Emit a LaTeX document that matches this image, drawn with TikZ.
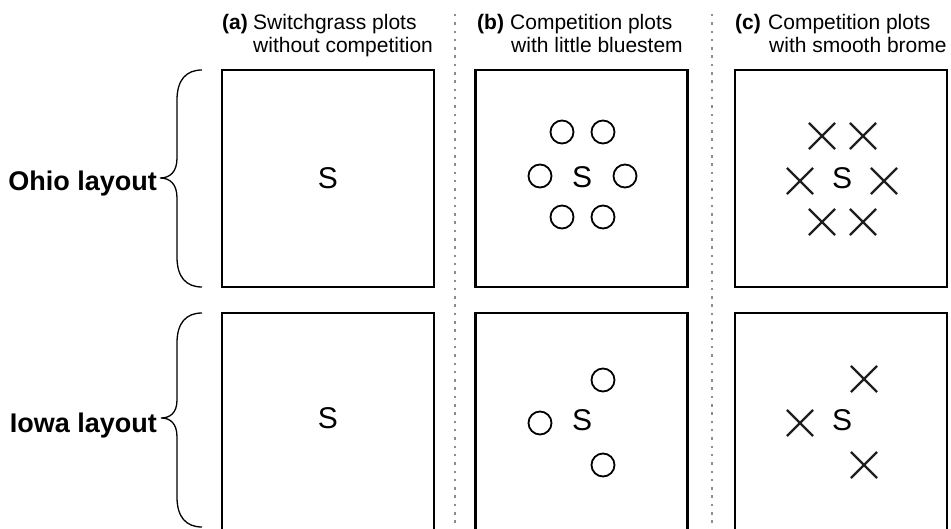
\documentclass[tikz,border=0pt]{standalone}
\usepackage{fontspec}
\setmainfont{Liberation Sans}
\usetikzlibrary{shapes.misc}
\begin{document}
\begin{tikzpicture}[x=1pt,y=-1pt,
  plotbox/.style={draw=black,line width=2.6pt,minimum width=212pt,minimum height=217pt,inner sep=0pt},
  plotboxlow/.style={plotbox,minimum height=230pt},
  sg/.style={font=\fontsize{30}{30}\selectfont,inner sep=0pt},
  bs/.style={circle,draw=black,line width=1.8pt,minimum size=23pt,inner sep=0pt},
  sb/.style={cross out,draw=black!88,line width=2.2pt,minimum size=24pt,inner sep=0pt},
  hd/.style={font=\fontsize{21}{23}\selectfont,inner sep=0pt,anchor=base west},
  hdl/.style={hd,font=\fontsize{21}{23}\selectfont\bfseries},
  rowlab/.style={font=\fontsize{27}{27}\selectfont\bfseries,inner sep=0pt,anchor=base east},
  sep/.style={draw=black!45,line width=2.5pt,dash pattern=on 2.5pt off 5.8pt},
  brc/.style={draw=black,line width=1.3pt}]
\useasboundingbox (0,0) rectangle (951,529);

% headers
\node[hdl] (la) at (222,30) {(a)};
\node[hd] (ha1) at (253,30) {Switchgrass plots};
\node[hd] (ha2) at (253,53) {without competition};
\node[hdl] (lb) at (477,30) {(b)};
\node[hd] (hb1) at (510,30) {Competition plots};
\node[hd] (hb2) at (511,53) {with little bluestem};
\node[hdl] (lc) at (735,30) {(c)};
\node[hd] (hc1) at (768,30) {Competition plots};
\node[hd] (hc2) at (769,53) {with smooth brome};

% separators
\coordinate (s1t) at (455,14); \coordinate (s1b) at (455,532);
\coordinate (s2t) at (712,14); \coordinate (s2b) at (712,532);
\draw[sep] (s1t) -- (s1b);
\draw[sep] (s2t) -- (s2b);

% boxes top row
\node[plotbox] (A1) at (328,178.5) {};
\node[plotbox] (B1) at (581.5,178.5) {};
\node[plotbox] (C1) at (841,178.5) {};
% boxes bottom row (cut by page edge)
\node[plotboxlow] (A2) at (328,428) {};
\node[plotboxlow] (B2) at (581.5,428) {};
\node[plotboxlow] (C2) at (841,428) {};

% S marks
\node[sg] (sa1) at (328,178) {S};
\node[sg] (sb1) at (582,177) {S};
\node[sg] (sc1) at (842,178) {S};
\node[sg] (sa2) at (328,418) {S};
\node[sg] (sb2) at (582,420) {S};
\node[sg] (sc2) at (842,420) {S};

% little bluestem, Ohio
\node[bs] (o1) at (562,132) {};
\node[bs] (o2) at (603,132) {};
\node[bs] (o3) at (540,176) {};
\node[bs] (o4) at (625,176) {};
\node[bs] (o5) at (562,217) {};
\node[bs] (o6) at (603,217) {};
% smooth brome, Ohio
\node[sb] (x1) at (822,136) {};
\node[sb] (x2) at (863,136) {};
\node[sb] (x3) at (800,181) {};
\node[sb] (x4) at (884,181) {};
\node[sb] (x5) at (822,222) {};
\node[sb] (x6) at (863,222) {};
% little bluestem, Iowa
\node[bs] (i1) at (603,380) {};
\node[bs] (i2) at (540,423) {};
\node[bs] (i3) at (603,465) {};
% smooth brome, Iowa
\node[sb] (y1) at (864,379) {};
\node[sb] (y2) at (800,423) {};
\node[sb] (y3) at (864,465) {};

% row labels
\node[rowlab] (ohio) at (157,191) {Ohio layout};
\node[rowlab] (iowa) at (157,432) {Iowa layout};

% braces
\draw[brc] (202,70) .. controls (186,70) and (177,80) .. (177,100) -- (177,158)
  .. controls (177,172) and (170,178) .. (160,178)
  .. controls (170,178) and (177,184) .. (177,198) -- (177,257)
  .. controls (177,277) and (186,287) .. (202,287);
\draw[brc] (202,313) .. controls (186,313) and (177,323) .. (177,343) -- (177,400)
  .. controls (177,413) and (170,418) .. (161,418)
  .. controls (170,418) and (177,423) .. (177,437) -- (177,497)
  .. controls (177,517) and (186,527) .. (202,527);
\end{tikzpicture}
\end{document}
